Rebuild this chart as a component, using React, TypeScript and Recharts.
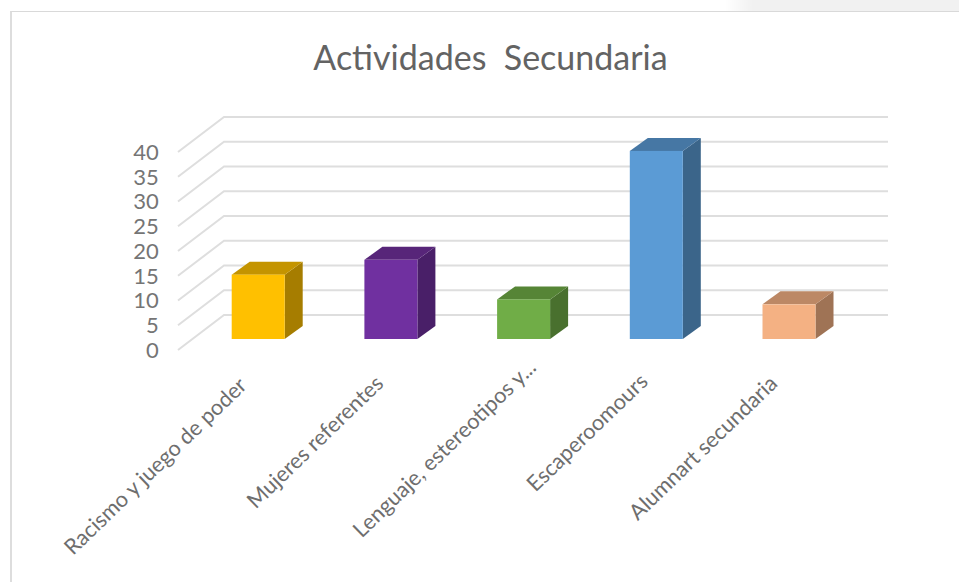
import React from 'react';
import { BarChart, Bar, XAxis, YAxis, CartesianGrid } from 'recharts';

const categories = [
  'Racismo y juego de poder',
  'Mujeres referentes',
  'Lenguaje, estereotipos y...',
  'Escaperoomours',
  'Alumnart secundaria',
];
const values = [13, 16, 8, 38, 7];
const yTicks = [0, 5, 10, 15, 20, 25, 30, 35, 40];

const frontColors = ['#FFC000', '#7030A0', '#70AD47', '#5B9BD5', '#F4B183'];
const sideColors = ['#A67D00', '#491F68', '#49702E', '#3B658A', '#9F7355'];
const topColors = ['#C49400', '#572579', '#568536', '#4677A4', '#BC8865'];

const labelNudge = [[-10, 8], [-6, 6], [14, -10], [-7, 4], [-10, 6]];

const data = categories.map((name, i) => ({ name, value: values[i] }));

const FONT = 'Lato, "Open Sans", sans-serif';

// 3D box: front face from the library, side and top faces skewed off it
const Box3D = (props: any) => {
  const { x, y, width, height, index } = props;
  const dx = 18;
  const dy = 13;
  const side = `${x + width},${y} ${x + width + dx},${y - dy} ${x + width + dx},${y + height - dy} ${x + width},${y + height}`;
  const top = `${x},${y} ${x + dx},${y - dy} ${x + width + dx},${y - dy} ${x + width},${y}`;
  return (
    <g>
      <polygon points={side} fill={sideColors[index]} />
      <polygon points={top} fill={topColors[index]} />
      <rect x={x} y={y} width={width} height={height} fill={frontColors[index]} />
    </g>
  );
};

// floor/wall line: diagonal on the side wall then across the back wall
const WallLine = (props: any) => {
  const { x1, x2, y1, key } = props;
  const points = `${x1 - 13.7},${y1 + 11} ${x1 + 32.3},${y1 - 24} ${x2 + 32.8},${y1 - 24}`;
  return <polyline key={key} points={points} fill="none" stroke="#DEDEDE" strokeWidth={2} />;
};

const YTick = (props: any) => {
  const { x, y, payload } = props;
  return (
    <text x={x - 25} y={y + 11} dy="0.36em" textAnchor="end" fontFamily={FONT} fontSize={22} fill="#757575">
      {payload.value}
    </text>
  );
};

const XTick = (props: any) => {
  const { x, y, payload, index } = props;
  const [nx, ny] = labelNudge[index];
  const tx = x + nx;
  const ty = y + 32 + ny;
  return (
    <text
      x={tx}
      y={ty}
      textAnchor="end"
      fontFamily={FONT}
      fontSize={21.7}
      fill="#6e6e6e"
      transform={`rotate(-44 ${tx} ${ty})`}
    >
      {payload.value}
    </text>
  );
};

export default function App() {
  return (
    <div style={{ position: 'fixed', left: 0, top: 0, width: 959, height: 582, background: '#fff', overflow: 'hidden' }}>
      <div
        style={{
          position: 'absolute',
          left: 725,
          top: 0,
          width: 234,
          height: 11,
          background: 'linear-gradient(to right, #ffffff, #f1f1f1 12%)',
        }}
      />
      <div style={{ position: 'absolute', left: 10, top: 11, width: 949, height: 571, borderTop: '1.5px solid #D9D9D9', borderLeft: '2px solid #DDDDDD', boxSizing: 'border-box' }} />
      <div
        style={{
          position: 'absolute',
          left: 0,
          top: 36,
          width: 981,
          textAlign: 'center',
          fontFamily: FONT,
          fontSize: 34,
          lineHeight: '42px',
          color: '#636363',
          whiteSpace: 'pre',
        }}
      >
        Actividades  Secundaria
      </div>
      <div style={{ position: 'absolute', left: 0, top: 0 }}>
        <BarChart
          width={959}
          height={582}
          data={data}
          margin={{ top: 141, right: 103.8, bottom: 43, left: 131.7 }}
        >
          <CartesianGrid vertical={false} horizontal={WallLine} />
          <XAxis dataKey="name" interval={0} height={200} axisLine={false} tickLine={false} tick={XTick} />
          <YAxis width={60} domain={[0, 40]} ticks={yTicks} axisLine={false} tickLine={false} tick={YTick} />
          <Bar dataKey="value" barSize={53} shape={Box3D} isAnimationActive={false} />
        </BarChart>
      </div>
    </div>
  );
}
